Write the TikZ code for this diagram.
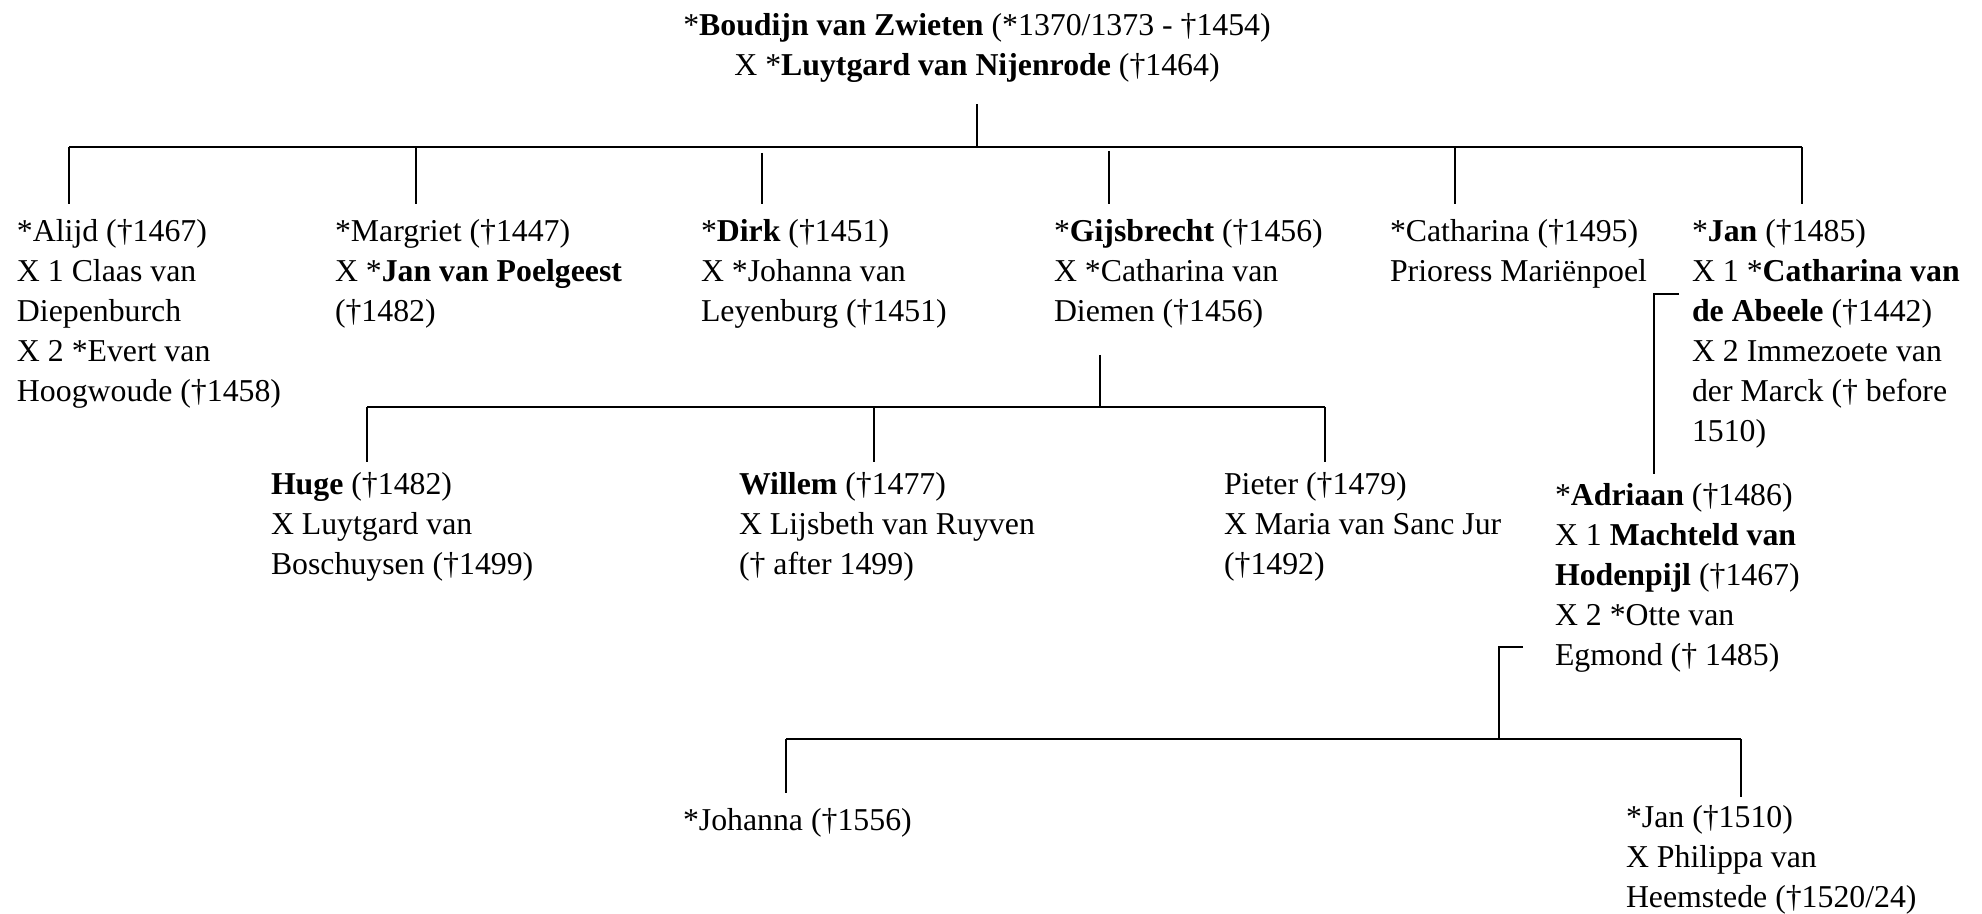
\documentclass[tikz,border=0pt]{standalone}
\usepackage{fontspec}
\setmainfont{Liberation Serif}
\usetikzlibrary{positioning, calc}

\begin{document}
\begin{tikzpicture}[x=0.5pt, y=-0.5pt, line width=1pt]
\tikzset{
  person/.style={anchor=north west, align=left, inner sep=0pt, font=\fontsize{15.9}{20}\selectfont},
  drop/.style ={shorten >=7pt}
}
\useasboundingbox (0,0) rectangle (1982,914);

% row 1
\node[person, anchor=north, align=center] (root) at (977,12) {*\textbf{Boudijn van Zwieten} (*1370/1373 - †1454)\\X *\textbf{Luytgard van Nijenrode} (†1464)};

% row 2 : children
\node[person] (alijd)      at (16,218)   {*Alijd (†1467)\\X 1 Claas van\\Diepenburch\\X 2 *Evert van\\Hoogwoude (†1458)};
\node[person] (margriet)   at (334,218)  {*Margriet (†1447)\\X *\textbf{Jan van Poelgeest}\\(†1482)};
\node[person] (dirk)       at (700,218)  {*\textbf{Dirk} (†1451)\\X *Johanna van\\Leyenburg (†1451)};
\node[person] (gijsbrecht) at (1053,218) {*\textbf{Gijsbrecht} (†1456)\\X *Catharina van\\Diemen (†1456)};
\node[person] (catharina)  at (1389,218) {*Catharina (†1495)\\Prioress Mariënpoel};
\node[person] (jan)        at (1691,218) {*\textbf{Jan} (†1485)\\X 1 *\textbf{Catharina van}\\\textbf{de Abeele} (†1442)\\X 2 Immezoete van\\der Marck († before\\1510)};

\coordinate (b1)   at (977,147);
\coordinate (dAl)  at (69,147);
\coordinate (dMa)  at (416,147);
\coordinate (dDi)  at (762,147);
\coordinate (dGi)  at (1109,147);
\coordinate (dCa)  at (1455,147);
\coordinate (dJa)  at (1802,147);

\draw[shorten <=10.5pt] (root.south -| b1) -- (b1);
\draw (dAl) -- (dJa);
\draw[drop] (dAl) -- (dAl |- alijd.north);
\draw[drop] (dMa) -- (dMa |- margriet.north);
\draw[drop, shorten <=3pt] (dDi) -- (dDi |- dirk.north);
\draw[drop, shorten <=2pt] (dGi) -- (dGi |- gijsbrecht.north);
\draw[drop] (dCa) -- (dCa |- catharina.north);
\draw[drop] (dJa) -- (dJa |- jan.north);

% row 3 : grandchildren of Gijsbrecht
\node[person] (huge)   at (270,471)  {\textbf{Huge} (†1482)\\X Luytgard van\\Boschuysen (†1499)};
\node[person] (willem) at (738,471)  {\textbf{Willem} (†1477)\\X Lijsbeth van Ruyven\\(† after 1499)};
\node[person] (pieter) at (1223,471) {Pieter (†1479)\\X Maria van Sanc Jur\\(†1492)};

\coordinate (b2)  at (1100,407);
\coordinate (dHu) at (367,407);
\coordinate (dWi) at (874,407);
\coordinate (dPi) at (1325,407);

\draw[shorten <=13pt] (gijsbrecht.south -| b2) -- (b2);
\draw (dHu) -- (dPi);
\draw[shorten >=4.5pt] (dHu) -- (dHu |- huge.north);
\draw[shorten >=4.5pt] (dWi) -- (dWi |- willem.north);
\draw[shorten >=4.5pt] (dPi) -- (dPi |- pieter.north);

% Jan -> Adriaan
\node[person] (adriaan) at (1554,482) {*\textbf{Adriaan} (†1486)\\X 1 \textbf{Machteld van}\\\textbf{Hodenpijl} (†1467)\\X 2 *Otte van\\Egmond († 1485)};

\coordinate (hJ) at (1654,294);
\draw[shorten <=6pt, shorten >=4pt] (hJ -| jan.west) -- (hJ) -- (hJ |- adriaan.north);

% row 4 : children of Adriaan
\node[person] (johanna) at (682,807)  {*Johanna (†1556)};
\node[person] (janjr)   at (1625,804) {*Jan (†1510)\\X Philippa van\\Heemstede (†1520/24)};

\coordinate (hA)  at (1499,647);
\coordinate (b3)  at (1499,739);
\coordinate (dJo) at (786,739);
\coordinate (dJj) at (1741,739);

\draw[shorten <=15.5pt] (hA -| adriaan.west) -- (hA) -- (b3);
\draw (dJo) -- (dJj);
\draw[shorten >=7pt] (dJo) -- (dJo |- johanna.north);
\draw[shorten >=3.5pt] (dJj) -- (dJj |- janjr.north);

\end{tikzpicture}
\end{document}
